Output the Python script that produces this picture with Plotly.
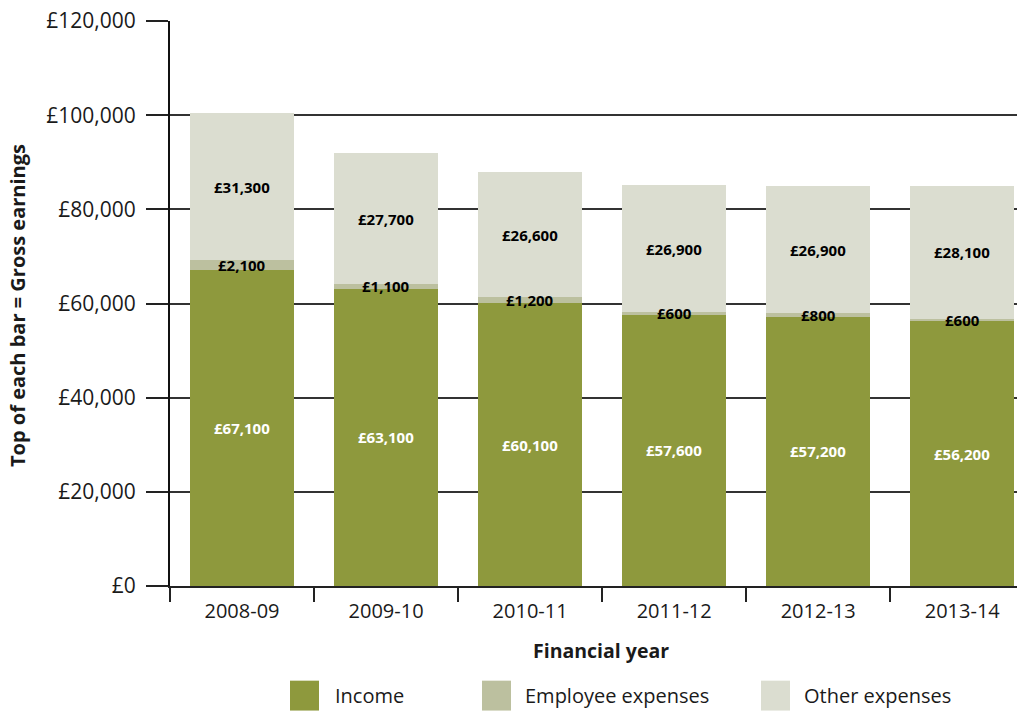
import plotly.graph_objects as go

# Financial years and earnings breakdown (GBP)
years = ["2008-09", "2009-10", "2010-11", "2011-12", "2012-13", "2013-14"]
income = [67100, 63100, 60100, 57600, 57200, 56200]
employee_expenses = [2100, 1100, 1200, 600, 800, 600]
other_expenses = [31300, 27700, 26600, 26900, 26900, 28100]

y_ticks = [0, 20000, 40000, 60000, 80000, 100000, 120000]
y_tick_labels = ["£0", "£20,000", "£40,000", "£60,000", "£80,000", "£100,000", "£120,000"]

series = [
    ("Income", income, "#8E993D", "white"),
    ("Employee expenses", employee_expenses, "#BCC09F", "black"),
    ("Other expenses", other_expenses, "#DBDDD0", "black"),
]

FONT = "Open Sans"
W, H = 1023, 711
L, R, T, B = 170, 1017, 19, 586  # plot area edges in pixels


def px_x(px):
    return (px - L) / (R - L)


def px_y(py):
    return (B - py) / (B - T)


fig = go.Figure()
for name, vals, color, _ in series:
    fig.add_trace(go.Bar(
        x=years, y=vals, name=name,
        marker=dict(color=color, line=dict(width=0)),
        showlegend=False,
    ))

# Value labels at the middle of each stacked segment
annotations = []
base = [0] * len(years)
for name, vals, color, txtcolor in series:
    for i, v in enumerate(vals):
        annotations.append(dict(
            x=years[i], y=base[i] + v / 2, xref="x", yref="y",
            text=f"£{v:,}", showarrow=False,
            font=dict(family=FONT, size=15, color=txtcolor, weight="bold"),
        ))
        base[i] += v

# Legend drawn as swatches with labels below the axis title
legend_items = [("Income", "#8E993D", 290, 333),
                ("Employee expenses", "#BCC09F", 482, 523),
                ("Other expenses", "#DBDDD0", 761, 802)]
shapes = []
for label, color, sx, tx in legend_items:
    shapes.append(dict(
        type="rect", xref="paper", yref="paper",
        x0=px_x(sx), x1=px_x(sx + 29),
        y0=px_y(711), y1=px_y(681),
        fillcolor=color, line=dict(width=0),
    ))
    annotations.append(dict(
        x=px_x(tx), y=px_y(696),
        xref="paper", yref="paper", xanchor="left", yanchor="middle",
        text=label, showarrow=False,
        font=dict(family=FONT, size=20, color="#1a1a1a"),
    ))

# Axis titles
annotations.append(dict(
    x=px_x(601), y=px_y(651),
    xref="paper", yref="paper", xanchor="center", yanchor="middle",
    text="Financial year", showarrow=False,
    font=dict(family=FONT, size=19.5, color="#1a1a1a", weight="bold"),
))
annotations.append(dict(
    x=px_x(18), y=px_y(305),
    xref="paper", yref="paper", xanchor="center", yanchor="middle",
    text="Top of each bar = Gross earnings", showarrow=False, textangle=-90,
    font=dict(family=FONT, size=20, color="#1a1a1a", weight="bold"),
))

fig.update_layout(
    barmode="stack",
    bargap=0.28,
    width=W, height=H,
    margin=dict(l=L, r=W - R, t=T - 2, b=H - B),
    paper_bgcolor="white", plot_bgcolor="white",
    font=dict(family=FONT, size=20, color="#1a1a1a"),
    annotations=annotations,
    shapes=shapes,
)
fig.update_xaxes(
    type="category",
    range=[-0.5, 5.38],
    tickson="boundaries", ticks="outside", ticklen=14, tickcolor="#222",
    tickwidth=1.5,
    showline=True, linecolor="#222", linewidth=1.5,
    showgrid=False, tickfont=dict(size=20),
    ticklabelstandoff=6,
)
fig.update_yaxes(
    range=[0, 120000],
    tickvals=y_ticks, ticktext=y_tick_labels,
    ticks="outside", ticklen=22, tickcolor="#222", tickwidth=1.5,
    showgrid=True, gridcolor="#333", gridwidth=1.5,
    showline=True, linecolor="#111", linewidth=2,
    zeroline=False, tickfont=dict(size=21),
    ticklabelstandoff=6,
)

fig.write_html("out.html")
